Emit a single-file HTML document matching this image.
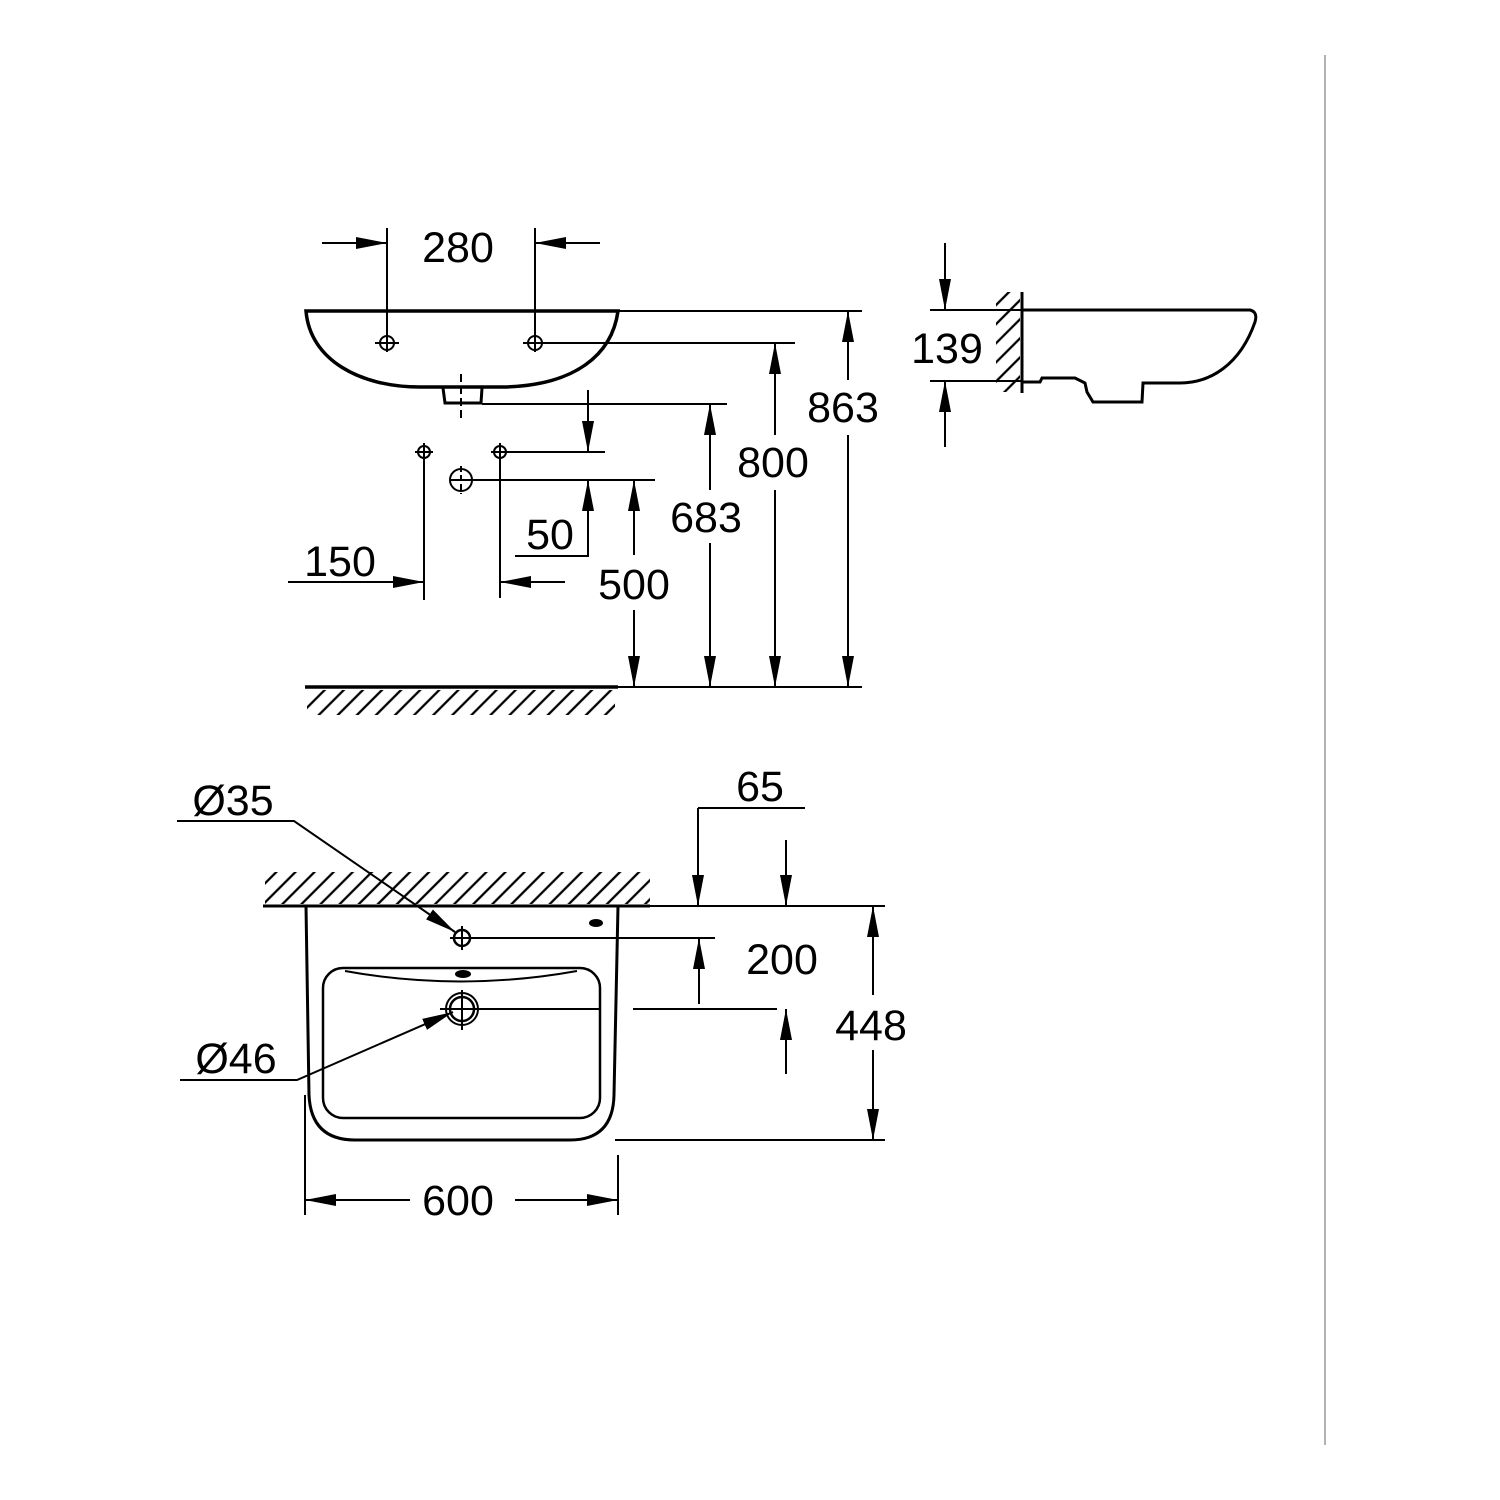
<!DOCTYPE html>
<html><head><meta charset="utf-8"><style>html,body{margin:0;padding:0;background:#fff}svg{display:block}text{font-family:"Liberation Sans",sans-serif;font-size:43px;fill:#000}</style></head>
<body>
<svg width="1500" height="1500" viewBox="0 0 1500 1500" xmlns="http://www.w3.org/2000/svg">
<defs>
<marker id="a" markerUnits="userSpaceOnUse" markerWidth="32" markerHeight="14" refX="31" refY="7" orient="auto-start-reverse"><path d="M0,1 L31,7 L0,13 z" fill="#000"/></marker>
<pattern id="h" patternUnits="userSpaceOnUse" width="13.5" height="13.5" patternTransform="rotate(45)"><line x1="2" y1="0" x2="2" y2="13.5" stroke="#000" stroke-width="2.3"/></pattern>
</defs>
<g stroke="#000" fill="none" stroke-width="2">
<line x1="1325" y1="55" x2="1325" y2="1445" stroke="#999" stroke-width="1.5"/>
<path d="M306,311 C310,360 360,387 420,387 L505,387 C575,385 612,355 618,311 Z" stroke-width="3.5"/>
<path d="M443,388 L445,403 L481,403 L482,388" stroke-width="3"/>
<line x1="461" y1="374" x2="461" y2="420" stroke-dasharray="8,4"/>
<line x1="618" y1="311" x2="862" y2="311"/>
<line x1="387" y1="228" x2="387" y2="352"/><line x1="535" y1="228" x2="535" y2="352"/>
<circle cx="387" cy="343" r="7"/><line x1="375" y1="343" x2="399" y2="343"/>
<circle cx="535" cy="343" r="7"/><line x1="523" y1="343" x2="795" y2="343"/>
<line x1="322" y1="243" x2="387" y2="243" marker-end="url(#a)"/>
<line x1="600" y1="243" x2="535" y2="243" marker-end="url(#a)"/>
<line x1="482" y1="404" x2="727" y2="404"/>
<circle cx="424" cy="452" r="6"/><line x1="415" y1="452" x2="433" y2="452"/><line x1="424" y1="443" x2="424" y2="600"/>
<circle cx="500" cy="452" r="6"/><line x1="491" y1="452" x2="605" y2="452"/><line x1="500" y1="443" x2="500" y2="598"/>
<circle cx="461" cy="480" r="11"/><line x1="450" y1="480" x2="655" y2="480"/><line x1="461" y1="466" x2="461" y2="494" stroke-dasharray="6,3"/>
<line x1="588" y1="390" x2="588" y2="452" marker-end="url(#a)"/>
<line x1="588" y1="556" x2="588" y2="480" marker-end="url(#a)"/>
<line x1="515" y1="556" x2="589" y2="556"/>
<line x1="288" y1="582" x2="424" y2="582" marker-end="url(#a)"/>
<line x1="565" y1="582" x2="500" y2="582" marker-end="url(#a)"/>
<line x1="634" y1="555" x2="634" y2="480" marker-end="url(#a)"/><line x1="634" y1="610" x2="634" y2="687" marker-end="url(#a)"/>
<line x1="710" y1="490" x2="710" y2="404" marker-end="url(#a)"/><line x1="710" y1="543" x2="710" y2="687" marker-end="url(#a)"/>
<line x1="775" y1="435" x2="775" y2="343" marker-end="url(#a)"/><line x1="775" y1="490" x2="775" y2="687" marker-end="url(#a)"/>
<line x1="848" y1="380" x2="848" y2="311" marker-end="url(#a)"/><line x1="848" y1="435" x2="848" y2="687" marker-end="url(#a)"/>
<line x1="305" y1="687" x2="618" y2="687" stroke-width="3.5"/><line x1="618" y1="687" x2="862" y2="687"/>
<rect x="307" y="690" width="308" height="25" fill="url(#h)" stroke="none"/>
<line x1="1022" y1="292" x2="1022" y2="393" stroke-width="3"/>
<rect x="996" y="292" width="24" height="100" fill="url(#h)" stroke="none"/>
<path d="M1022,310 L1250,310 Q1258,312 1255,322 C1240,365 1210,383 1180,383 L1143,383 L1142,402 L1093,402 L1087,392 L1085,383 L1075,378 L1042,378 L1040,382 L1022,382" stroke-width="3"/>
<line x1="930" y1="310" x2="1022" y2="310"/><line x1="930" y1="381" x2="1022" y2="381"/>
<line x1="945" y1="243" x2="945" y2="310" marker-end="url(#a)"/>
<line x1="945" y1="447" x2="945" y2="381" marker-end="url(#a)"/>
<line x1="263" y1="906" x2="885" y2="906"/><line x1="263" y1="906" x2="650" y2="906" stroke-width="3"/>
<rect x="265" y="872" width="385" height="32" fill="url(#h)" stroke="none"/>
<path d="M306,906 L309,1095 Q311,1140 355,1140 L570,1140 Q613,1140 614,1095 L618,906" stroke-width="3"/>
<rect x="323" y="968" width="277" height="150" rx="20" stroke-width="2.5"/>
<path d="M345,971 Q460,992 577,971" stroke-width="2"/>
<ellipse cx="463" cy="974" rx="7" ry="3" fill="#000"/><ellipse cx="596" cy="923" rx="6" ry="3" fill="#000"/>
<line x1="305" y1="1095" x2="305" y2="1215"/><line x1="618" y1="1155" x2="618" y2="1215"/>
<line x1="615" y1="1140" x2="885" y2="1140"/>
<circle cx="462" cy="938" r="8" stroke-width="2.5"/><line x1="450" y1="938" x2="715" y2="938"/><line x1="462" y1="926" x2="462" y2="950"/>
<circle cx="462" cy="1009" r="12" stroke-width="2.5"/><circle cx="462" cy="1009" r="16"/>
<line x1="440" y1="1009" x2="600" y2="1009"/><line x1="462" y1="990" x2="462" y2="1030"/>
<line x1="633" y1="1009" x2="777" y2="1009"/>
<line x1="698" y1="808" x2="805" y2="808"/>
<line x1="698" y1="808" x2="698" y2="906" marker-end="url(#a)"/>
<line x1="786" y1="840" x2="786" y2="906" marker-end="url(#a)"/>
<line x1="699" y1="1004" x2="699" y2="938" marker-end="url(#a)"/>
<line x1="786" y1="1074" x2="786" y2="1009" marker-end="url(#a)"/>
<line x1="873" y1="995" x2="873" y2="906" marker-end="url(#a)"/>
<line x1="873" y1="1050" x2="873" y2="1140" marker-end="url(#a)"/>
<line x1="410" y1="1200" x2="305" y2="1200" marker-end="url(#a)"/>
<line x1="515" y1="1200" x2="618" y2="1200" marker-end="url(#a)"/>
<polyline points="177,821 294,821 455,932" marker-end="url(#a)"/>
<polyline points="180,1080 297,1080 453,1012" marker-end="url(#a)"/>
</g>
<g text-anchor="middle">
<text x="458" y="262">280</text>
<text x="550" y="549">50</text>
<text x="340" y="576">150</text>
<text x="634" y="599">500</text>
<text x="706" y="532">683</text>
<text x="773" y="477">800</text>
<text x="843" y="422">863</text>
<text x="947" y="363">139</text>
<text x="760" y="801">65</text>
<text x="782" y="974">200</text>
<text x="871" y="1040">448</text>
<text x="458" y="1215">600</text>
<text x="233" y="815">Ø35</text>
<text x="236" y="1073">Ø46</text>
</g>
</svg>
</body></html>
